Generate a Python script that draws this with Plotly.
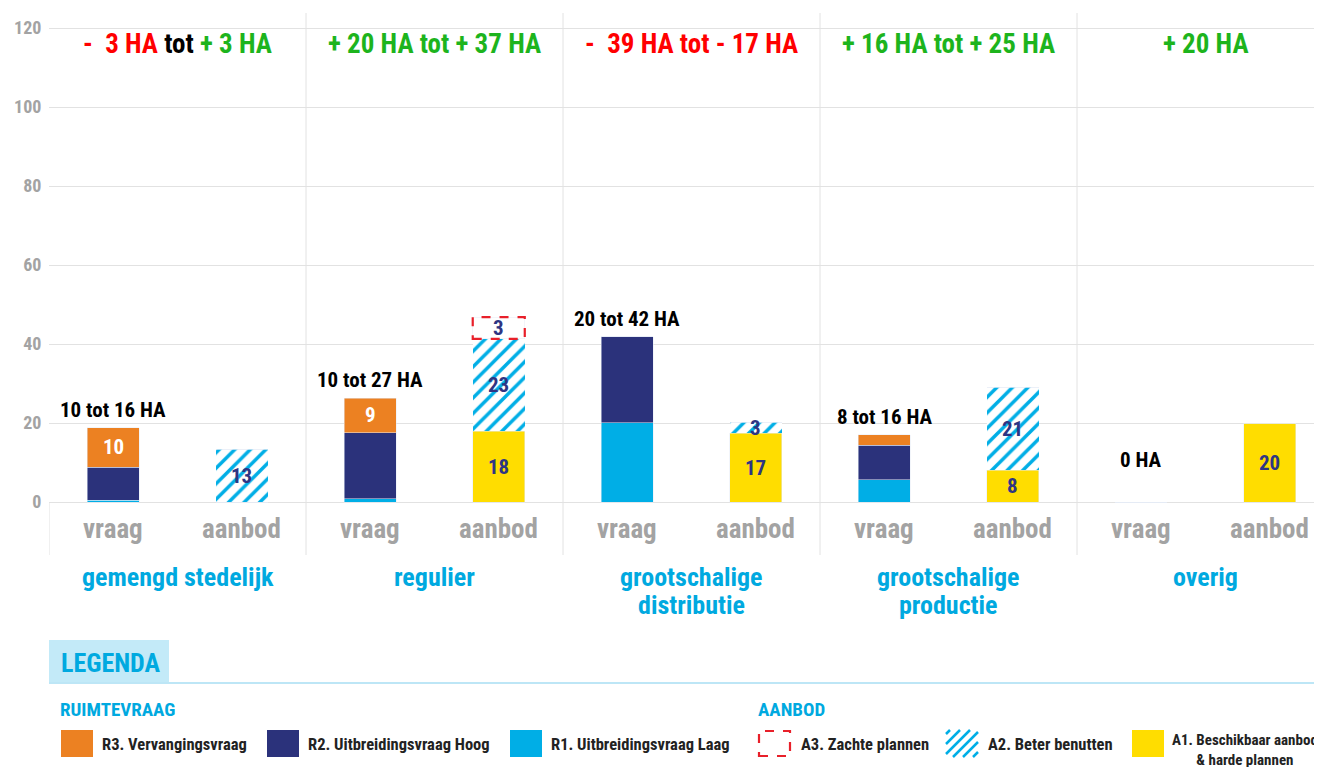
import plotly.graph_objects as go

# ---------------- data ----------------
groups = [["gemengd stedelijk"], ["regulier"], ["grootschalige", "distributie"],
          ["grootschalige", "productie"], ["overig"]]
sub_labels = ["vraag", "aanbod"]

# ruimtevraag (vraag bars)
r1 = [0.4, 0.8, 20.1, 5.6, 0.0]    # R1. Uitbreidingsvraag Laag
r2 = [8.4, 16.7, 21.7, 8.8, 0.0]   # R2. Uitbreidingsvraag Hoog
r3 = [10.0, 8.8, 0.0, 2.6, 0.0]    # R3. Vervangingsvraag
# aanbod bars
a1 = [0.0, 17.9, 17.4, 8.1, 20.0]  # A1. Beschikbaar aanbod & harde plannen
a2 = [13.4, 23.4, 2.8, 20.9, 0.0]  # A2. Beter benutten
a3 = [0.0, 5.5, 0.0, 0.0, 0.0]     # A3. Zachte plannen

r3_text = ["10", "9", "", "", ""]
a1_text = ["", "18", "17", "8", "20"]
a2_text = ["13", "23", "3", "21", ""]
a3_text = ["", "3", "", "", ""]

vraag_totals = ["10 tot 16 HA", "10 tot 27 HA", "20 tot 42 HA", "8 tot 16 HA", "0 HA"]

RED, GREEN, BLACK = "#FF0000", "#1DB41D", "#000000"
balance = [
    [("-  3 HA ", RED), ("tot ", BLACK), ("+ 3 HA", GREEN)],
    [("+ 20 HA tot + 37 HA", GREEN)],
    [("-  39 HA tot - 17 HA", RED)],
    [("+ 16 HA tot + 25 HA", GREEN)],
    [("+ 20 HA", GREEN)],
]

y_ticks = [0, 20, 40, 60, 80, 100, 120]

legend_vraag = ["R3. Vervangingsvraag", "R2. Uitbreidingsvraag Hoog", "R1. Uitbreidingsvraag Laag"]
legend_aanbod = ["A3. Zachte plannen", "A2. Beter benutten", "A1. Beschikbaar aanbod<br>& harde plannen"]

# ---------------- style ----------------
FONT = "Liberation Sans Narrow, Roboto Condensed, DejaVu Sans Condensed, Arial Narrow, sans-serif"
C_R1, C_R2, C_R3 = "#00AEE6", "#2B327B", "#EC8122"
C_A1, C_A2, C_A3 = "#FFDD00", "#00AEE6", "#E8202A"
NAVY_TXT = "#2E3583"
CYAN = "#00A9E0"
GRAY = "#A3A3A3"
GRID = "#E2E2E2"

OFF = 8  # page body margin
W, H = 1322 - OFF, 767 - OFF
ML, MT = 49 - OFF, 13 - OFF
PB = 555 - OFF                 # plot bottom in figure px
MR, MB = 0, H - PB
PW, PH = W - ML - MR, PB - MT
UNIT = 128.5
BW = 0.405
YPX = 3.95                      # px per unit


def px(x):
    return (x - OFF - ML) / PW


def py(y):
    return (PB - (y - OFF)) / PH


n = len(groups)
xv = [2 * i for i in range(n)]
xa = [2 * i + 1 for i in range(n)]

fig = go.Figure()

fig.add_trace(go.Bar(x=xv, y=r1, marker_color=C_R1, width=BW, name="R1"))
fig.add_trace(go.Bar(x=xv, y=r2, marker_color=C_R2, width=BW, name="R2"))
fig.add_trace(go.Bar(x=xv, y=r3, marker_color=C_R3, width=BW, name="R3"))
fig.add_trace(go.Bar(x=xa, y=a1, marker_color=C_A1, width=BW, name="A1"))
fig.add_trace(go.Bar(x=xa, y=a2, width=BW, name="A2",
                     marker=dict(color="white", line=dict(width=0),
                                 pattern=dict(shape="/", fgcolor=C_A2, bgcolor="white",
                                              fgopacity=1, size=11, solidity=0.32))))
fig.add_trace(go.Bar(x=xa, y=a3, width=BW, name="A3",
                     marker=dict(color="rgba(0,0,0,0)")))

shapes = []
ann = []

# dashed boxes for A3
for i in range(n):
    if a3[i] > 0:
        base = a1[i] + a2[i]
        shapes.append(dict(type="rect", xref="x", yref="y",
                           x0=xa[i] - BW / 2, x1=xa[i] + BW / 2, y0=base, y1=base + a3[i],
                           line=dict(color=C_A3, width=2.2, dash="dash")))

# separators
for i in range(1, n):
    shapes.append(dict(type="line", xref="x", yref="paper", x0=2 * i - 0.5, x1=2 * i - 0.5,
                       y0=0, y1=1, line=dict(color=GRID, width=1), layer="below"))
shapes.append(dict(type="line", xref="x", yref="paper", x0=-0.5, x1=-0.5,
                   y0=0, y1=py(502), line=dict(color=GRID, width=1), layer="below"))

# in-bar labels
LBL = dict(family=FONT, size=21, color=NAVY_TXT, weight="bold")
for i in range(n):
    if r3_text[i]:
        ann.append(dict(x=xv[i], y=r1[i] + r2[i] + r3[i] / 2, text=r3_text[i], showarrow=False,
                        font=dict(LBL, color="white")))
    if a1_text[i]:
        ann.append(dict(x=xa[i], y=a1[i] / 2, text=a1_text[i], showarrow=False, font=LBL))
    if a2_text[i]:
        ann.append(dict(x=xa[i], y=a1[i] + a2[i] / 2, text=a2_text[i], showarrow=False, font=LBL))
    if a3_text[i]:
        ann.append(dict(x=xa[i], y=a1[i] + a2[i] + a3[i] / 2, text=a3_text[i], showarrow=False, font=LBL))

# vraag totals
for i in range(n):
    top = r1[i] + r2[i] + r3[i]
    yy = top if top > 0 else 6.0
    ann.append(dict(x=xv[i], y=yy, yanchor="bottom", yshift=4, text=vraag_totals[i],
                    showarrow=False, font=dict(family=FONT, size=21, color="black", weight="bold")))

# balance headers
for i in range(n):
    txt = "".join(f"<span style='color:{c}'>{t}</span>" for t, c in balance[i])
    ann.append(dict(x=2 * i + 0.5, xref="x", y=py(44), yref="paper", yanchor="middle",
                    text=txt, showarrow=False, font=dict(family=FONT, size=27, weight="bold")))

# vraag/aanbod labels and group labels
for i in range(n):
    for j, lab in enumerate(sub_labels):
        ann.append(dict(x=2 * i + j, xref="x", y=py(529), yref="paper", yanchor="middle",
                        text=lab, showarrow=False,
                        font=dict(family=FONT, size=27, color=GRAY, weight="bold")))
    for k, line in enumerate(groups[i]):
        ann.append(dict(x=2 * i + 0.5, xref="x", y=py(577 + 28 * k), yref="paper", yanchor="middle",
                        text=line, showarrow=False,
                        font=dict(family=FONT, size=26, color=CYAN, weight="bold")))

# ---------------- legend (drawn) ----------------
shapes.append(dict(type="rect", xref="paper", yref="paper", x0=px(49), x1=px(169),
                   y0=py(683), y1=py(640), fillcolor="#C3EAF8", line=dict(width=0)))
shapes.append(dict(type="line", xref="paper", yref="paper", x0=px(49), x1=px(1330),
                   y0=py(683), y1=py(683), line=dict(color="#BDE6F6", width=2)))
ann.append(dict(x=px(59), y=py(663), xref="paper", yref="paper", xanchor="left", yanchor="middle",
                text="LEGENDA", showarrow=False,
                font=dict(family=FONT, size=26, color=CYAN, weight="bold")))
ann.append(dict(x=px(58), y=py(709), xref="paper", yref="paper", xanchor="left", yanchor="middle",
                text="RUIMTEVRAAG", showarrow=False,
                font=dict(family=FONT, size=19, color=CYAN, weight="bold")))
ann.append(dict(x=px(756), y=py(709), xref="paper", yref="paper", xanchor="left", yanchor="middle",
                text="AANBOD", showarrow=False,
                font=dict(family=FONT, size=19, color=CYAN, weight="bold")))

SW_Y0, SW_Y1 = 730, 757
LEG_FONT = dict(family=FONT, size=16.5, color="#222222", weight="bold")
vraag_sw = [(61, C_R3), (267, C_R2), (510, C_R1)]
for (x0, col), lab in zip(vraag_sw, legend_vraag):
    shapes.append(dict(type="rect", xref="paper", yref="paper", x0=px(x0), x1=px(x0 + 32),
                       y0=py(SW_Y1), y1=py(SW_Y0), fillcolor=col, line=dict(width=0)))
    ann.append(dict(x=px(x0 + 39), y=py(744), xref="paper", yref="paper", xanchor="left",
                    yanchor="middle", text=lab, showarrow=False, font=LEG_FONT))

# A3 swatch (dashed)
shapes.append(dict(type="rect", xref="paper", yref="paper", x0=px(759), x1=px(790),
                   y0=py(SW_Y1 - 1), y1=py(SW_Y0 + 1), line=dict(color=C_A3, width=2.2, dash="dash")))
ann.append(dict(x=px(799), y=py(744), xref="paper", yref="paper", xanchor="left", yanchor="middle",
                text=legend_aanbod[0], showarrow=False, font=LEG_FONT))
# A2 swatch (hatched)
hx0, hx1 = 946, 978
path = ""
step = 10
c = hx0 + SW_Y0 + 4
while c < hx1 + SW_Y1:
    xa0, ya0 = c - SW_Y1, SW_Y1
    xb0, yb0 = c - SW_Y0, SW_Y0
    if xa0 < hx0:
        xa0, ya0 = hx0, c - hx0
    if xb0 > hx1:
        xb0, yb0 = hx1, c - hx1
    if xa0 <= hx1 and xb0 >= hx0:
        path += f"M{px(xa0)},{py(ya0)} L{px(xb0)},{py(yb0)} "
    c += step
shapes.append(dict(type="path", xref="paper", yref="paper", path=path,
                   line=dict(color=C_A2, width=2.5)))
ann.append(dict(x=px(986), y=py(744), xref="paper", yref="paper", xanchor="left", yanchor="middle",
                text=legend_aanbod[1], showarrow=False, font=LEG_FONT))
# A1 swatch
shapes.append(dict(type="rect", xref="paper", yref="paper", x0=px(1132), x1=px(1164),
                   y0=py(SW_Y1), y1=py(SW_Y0), fillcolor=C_A1, line=dict(width=0)))
ann.append(dict(x=px(1170), y=py(729), xref="paper", yref="paper", xanchor="left", yanchor="top",
                text=legend_aanbod[2], showarrow=False, align="center",
                font=dict(LEG_FONT, size=15)))

fig.update_layout(
    width=W, height=H, barmode="stack", showlegend=False,
    margin=dict(l=ML, r=MR, t=MT, b=MB, pad=0),
    plot_bgcolor="white", paper_bgcolor="white",
    shapes=shapes, annotations=ann,
    xaxis=dict(range=[-0.5, -0.5 + PW / UNIT], showgrid=False, zeroline=False,
               showticklabels=False, ticks=""),
    yaxis=dict(range=[-(555 - 502) / YPX, (502 - 13) / YPX], tickvals=y_ticks,
               showgrid=True, gridcolor=GRID, gridwidth=1, zeroline=False,
               ticks="outside", ticklen=3, tickcolor="rgba(0,0,0,0)",
               tickfont=dict(family=FONT, size=18, color=GRAY, weight="bold")),
    font=dict(family=FONT),
)

fig.write_html("out.html")
